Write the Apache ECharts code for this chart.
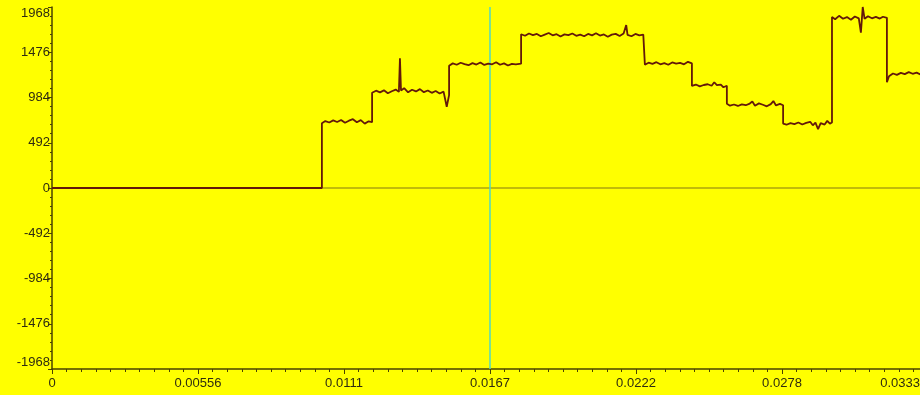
<!DOCTYPE html>
<html>
<head>
<meta charset="utf-8">
<title>Signal trace</title>
<script src="https://cdn.jsdelivr.net/npm/echarts@6/dist/echarts.min.js"></script>
<style>
  html, body { margin: 0; padding: 0; background: #ffff00; }
  #chart { width: 920px; height: 395px; }
</style>
</head>
<body>
<div id="chart"></div>
<script>
// Captured trace: [time in ms, amplitude]
const idle   = [[0, 0], [10.27, 0]];
const step1  = [[10.27, 705], [10.40, 728], [10.55, 712], [10.70, 735], [10.85, 718], [11.00, 740], [11.15, 709], [11.30, 732], [11.45, 748], [11.60, 715], [11.75, 738], [11.90, 700], [12.05, 725], [12.18, 716]];
const step2  = [[12.18, 1035], [12.33, 1058], [12.48, 1040], [12.63, 1062], [12.78, 1030], [12.93, 1052], [13.08, 1070], [13.20, 1045], [13.24, 1410], [13.28, 1060], [13.40, 1085], [13.55, 1040], [13.70, 1068], [13.85, 1050], [14.00, 1075], [14.15, 1042], [14.30, 1060], [14.45, 1035], [14.60, 1055], [14.75, 1028], [14.90, 1048], [15.02, 884], [15.11, 1010]];
const step3  = [[15.11, 1330], [15.25, 1355], [15.40, 1340], [15.55, 1362], [15.70, 1348], [15.85, 1335], [16.00, 1358], [16.15, 1342], [16.30, 1365], [16.45, 1338], [16.60, 1352], [16.75, 1345], [16.90, 1368], [17.05, 1340], [17.20, 1355], [17.35, 1332], [17.50, 1350], [17.65, 1344], [17.85, 1352]];
const step4  = [[17.85, 1672], [18.00, 1655], [18.15, 1680], [18.30, 1662], [18.45, 1675], [18.60, 1650], [18.75, 1668], [18.90, 1685], [19.05, 1660], [19.20, 1672], [19.35, 1648], [19.50, 1670], [19.65, 1662], [19.80, 1680], [19.95, 1655], [20.10, 1668], [20.25, 1650], [20.40, 1675], [20.55, 1660], [20.70, 1682], [20.85, 1658], [21.00, 1670], [21.15, 1645], [21.30, 1668], [21.45, 1676], [21.60, 1652], [21.75, 1680], [21.85, 1772], [21.90, 1665], [22.05, 1650], [22.20, 1675], [22.35, 1660], [22.50, 1668], [22.56, 1662]];
const step5  = [[22.56, 1340], [22.70, 1362], [22.85, 1350], [23.00, 1368], [23.15, 1345], [23.30, 1358], [23.45, 1340], [23.60, 1365], [23.75, 1352], [23.90, 1360], [24.05, 1345], [24.20, 1372], [24.35, 1355]];
const step6  = [[24.35, 1110], [24.50, 1125], [24.65, 1105], [24.80, 1120], [24.95, 1128], [25.10, 1112], [25.20, 1150], [25.30, 1118], [25.45, 1125], [25.55, 1095], [25.68, 1112]];
const step7  = [[25.68, 915], [25.80, 895], [25.95, 908], [26.10, 892], [26.25, 910], [26.40, 900], [26.55, 918], [26.65, 940], [26.75, 895], [26.90, 920], [27.05, 905], [27.20, 888], [27.35, 912], [27.45, 945], [27.55, 898], [27.70, 915], [27.82, 900]];
const step8  = [[27.82, 700], [27.95, 688], [28.10, 705], [28.25, 695], [28.40, 712], [28.55, 690], [28.70, 708], [28.85, 720], [28.95, 682], [29.05, 710], [29.15, 640], [29.25, 705], [29.40, 690], [29.50, 730], [29.60, 700], [29.68, 712]];
const step9  = [[29.68, 1860], [29.80, 1835], [29.95, 1872], [30.10, 1840], [30.25, 1858], [30.40, 1830], [30.55, 1865], [30.70, 1845], [30.78, 1690], [30.85, 1968], [30.92, 1840], [31.05, 1868], [31.20, 1845], [31.35, 1860], [31.50, 1842], [31.62, 1862], [31.77, 1850]];
const step10 = [[31.77, 1150], [31.85, 1215], [32.00, 1245], [32.15, 1230], [32.30, 1252], [32.45, 1238], [32.60, 1260], [32.75, 1242], [32.90, 1255], [33.05, 1235], [33.20, 1250], [33.33, 1244]];

const xTickLabels = ['0', '0.00556', '0.0111', '0.0167', '0.0222', '0.0278', '0.0333'];
const yTickLabels = ['-1968', '-1476', '-984', '-492', '0', '492', '984', '1476', '1968'];
const cursorTime = 1 / 60;   // seconds
const yRange = [-1968, 1968];

const trace = [idle, step1, step2, step3, step4, step5, step6, step7, step8, step9, step10]
  .flat()
  .map(([ms, v]) => [ms / 1000, v]);

const chart = echarts.init(document.getElementById('chart'), null, { renderer: 'canvas' });
const labelFont = { fontFamily: 'Liberation Sans, Arial, sans-serif', fontSize: 13, color: '#2f2c10' };
const axisColor = '#4a4300';

chart.setOption({
  backgroundColor: '#ffff00',
  animation: false,
  grid: { left: 52, width: 876, top: 7, bottom: 26, containLabel: false, outerBoundsMode: 'none' },
  xAxis: {
    type: 'value',
    min: 0,
    max: 1 / 30,
    interval: 1 / 180,
    axisLine: { onZero: false, lineStyle: { color: axisColor, width: 1.5 } },
    axisTick: { show: true, inside: false, length: 5, lineStyle: { color: axisColor } },
    minorTick: { show: true, splitNumber: 10, length: 3, lineStyle: { color: axisColor } },
    splitLine: { show: false },
    axisLabel: Object.assign({}, labelFont, {
      margin: 8,
      alignMaxLabel: 'right',
      formatter: (v, i) => {
        const text = xTickLabels[i] ?? '';
        return i === xTickLabels.length - 1 ? '{last|' + text + '}' : text;
      },
      rich: { last: Object.assign({}, labelFont, { padding: [0, 8, 0, 0] }) }
    })
  },
  yAxis: {
    type: 'value',
    min: yRange[0],
    max: yRange[1],
    interval: 492,
    axisLine: { show: true, onZero: false, lineStyle: { color: axisColor, width: 1.5 } },
    axisTick: { show: true, inside: false, length: 4, lineStyle: { color: axisColor } },
    minorTick: { show: true, splitNumber: 5, length: 2, lineStyle: { color: axisColor } },
    splitLine: { show: false },
    axisLabel: Object.assign({}, labelFont, {
      margin: 2,
      verticalAlignMaxLabel: 'top',
      verticalAlignMinLabel: 'bottom',
      formatter: (v, i) => yTickLabels[i] ?? ''
    })
  },
  series: [
    {
      // zero reference line
      type: 'line',
      data: [[0, 0], [1 / 30, 0]],
      showSymbol: false,
      symbol: 'none',
      silent: true,
      z: 1,
      lineStyle: { color: '#857812', width: 1.2 }
    },
    {
      // cursor
      type: 'line',
      data: [[cursorTime, yRange[0]], [cursorTime, yRange[1]]],
      showSymbol: false,
      symbol: 'none',
      silent: true,
      z: 2,
      lineStyle: { color: '#4fd6c4', width: 1.5 }
    },
    {
      type: 'line',
      data: trace,
      showSymbol: false,
      symbol: 'none',
      z: 5,
      lineStyle: { color: '#62190a', width: 1.8 }
    }
  ]
});
</script>
</body>
</html>
